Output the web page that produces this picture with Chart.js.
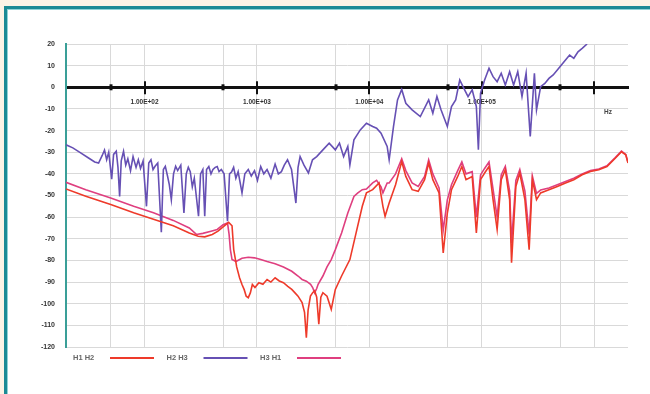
<!DOCTYPE html>
<html>
<head>
<meta charset="utf-8">
<script src="https://cdn.jsdelivr.net/npm/chart.js@4.4.0/dist/chart.umd.min.js"></script>
<style>
html,body{margin:0;padding:0;overflow:hidden;background:#fbf3e6;width:650px;height:394px;}
#frame{position:absolute;left:4px;top:6px;width:700px;height:500px;background:#fff;border-left:3px solid #1b8a95;border-top:3px solid #1b8a95;box-shadow:inset 1px 1px 0 #8fd3d6;}
#c{position:absolute;left:0;top:0;}
</style>
</head>
<body>
<div id="frame"></div>
<canvas id="c" width="650" height="394"></canvas>
<script>
// ---- data (frequency in Hz, response in dB) ----
const seriesNames = ['H1 H2', 'H2 H3', 'H3 H1'];

const h12Freq = [20,30,50,80,120,180,250,300,343,400,450,500,560,600,621,660,700,736,770,802,837,873,910,960,1040,1130,1230,1330,1450,1580,1720,1880,2040,2180,2320,2520,2650,2750,2850,2990,3130,3260,3400,3550,3700,3860,4200,4580,4980,5660,6710,7620,8650,9420,10700,12200,13200,13800,15000,17100,19400,21100,24000,27200,31000,33700,36700,41700,45400,49400,53800,61100,66500,72400,82200,89500,97500,106000,116000,126000,137000,149000,162000,177000,184000,201000,218000,242000,264000,282000,307000,334000,396000,470000,556000,659000,782000,927000,1100000,1300000,1540000,1750000,1910000,2000000];
const h12Db = [-47.0,-50.3,-54.2,-58.0,-61.0,-64.0,-67.3,-68.8,-69.1,-68.0,-66.5,-64.5,-62.4,-64.0,-75.0,-83.0,-88.0,-91.1,-93.5,-96.5,-97.2,-95.0,-91.1,-92.5,-90.3,-91.0,-88.8,-90.0,-88.0,-89.5,-90.3,-92.0,-93.4,-95.0,-96.5,-99.5,-104.0,-115.7,-103.0,-96.5,-94.9,-94.0,-97.0,-109.5,-97.0,-94.9,-96.5,-102.6,-93.4,-87.2,-79.6,-67.3,-55.0,-48.8,-47.3,-44.2,-55.0,-59.6,-53.5,-45.0,-34.3,-41.2,-47.3,-48.1,-42.7,-35.0,-42.7,-48.8,-76.5,-58.1,-47.3,-41.2,-36.6,-42.7,-41.2,-67.3,-42.7,-39.6,-36.6,-51.9,-65.7,-42.7,-38.1,-51.9,-81.1,-45.8,-39.6,-51.9,-75.0,-42.7,-51.9,-48.8,-47.3,-45.8,-44.2,-42.7,-40.4,-38.9,-38.1,-36.6,-32.8,-29.8,-31.2,-35.0];

const h23Freq = [20,23,27,32,36,39,42,44,46,48,51,53,56,58,60,62,65,68,71,75,79,84,88,92,97,104,109,114,119,124,131,141,147,153,160,166,173,181,189,197,210,224,235,245,255,266,277,302,315,330,343,356,373,390,406,425,443,460,482,510,547,570,596,620,649,680,736,780,837,890,951,1010,1080,1150,1230,1330,1450,1550,1650,1750,1870,2030,2220,2320,2420,2620,2870,3120,3400,3860,4390,4980,5420,5900,6430,6710,7290,8300,9420,10700,11600,12700,14400,15000,16400,17800,19400,21100,24000,28400,33700,36700,39900,43400,49400,53800,58600,63700,69300,75500,82200,89500,93300,97500,106000,116000,126000,137000,149000,162000,177000,192000,209000,228000,248000,270000,294000,307000,334000,364000,396000,432000,470000,511000,556000,605000,659000,718000,782000,865000];
const h23Db = [-26.6,-28.0,-30.3,-32.8,-34.5,-35.0,-31.5,-29.0,-33.5,-30.0,-42.5,-31.0,-29.5,-37.0,-50.4,-34.0,-29.6,-36.0,-33.0,-38.5,-32.0,-37.0,-33.5,-37.5,-34.0,-55.0,-35.0,-33.5,-38.0,-36.5,-35.0,-67.0,-38.0,-36.5,-41.0,-45.0,-51.9,-40.0,-36.5,-38.5,-36.0,-58.1,-40.0,-37.0,-39.0,-46.0,-42.0,-59.6,-40.0,-38.0,-59.6,-38.0,-36.6,-40.0,-38.0,-37.0,-36.6,-39.0,-38.0,-40.0,-61.9,-40.0,-39.0,-37.0,-42.0,-39.0,-48.8,-40.0,-38.0,-41.0,-38.5,-43.0,-36.6,-40.0,-38.0,-42.0,-35.5,-40.0,-39.0,-36.0,-33.5,-38.0,-53.5,-37.0,-32.0,-36.0,-39.6,-33.5,-32.0,-28.9,-25.8,-28.9,-25.8,-32.0,-27.3,-35.8,-24.3,-19.7,-16.6,-18.1,-18.9,-21.2,-27.3,-33.5,-18.1,-5.8,-1.0,-7.4,-10.4,-13.5,-5.8,-12.0,-4.3,-10.4,-18.1,-8.9,-5.8,3.4,-0.5,-4.3,-1.2,-8.9,-28.9,-2.8,3.4,8.8,4.9,2.6,6.5,1.1,7.2,1.1,7.2,-4.3,6.5,-22.7,6.5,-10.4,0.3,1.8,4.1,5.7,8.0,10.3,12.6,14.9,13.4,16.4,18.0,20.0];

const h31Freq = [20,30,50,80,120,180,250,289,330,390,443,500,547,565,580,600,650,736,837,951,1080,1230,1450,1720,2040,2320,2520,2750,3000,3130,3260,3400,3500,3860,4200,4580,4980,5660,6430,7290,7900,8650,9420,10700,11600,12700,13200,14400,15000,17100,19400,21100,24000,27200,31000,33700,36700,41700,45400,49400,53800,61100,66500,72400,82200,89500,97500,106000,116000,126000,137000,149000,162000,177000,184000,201000,218000,242000,264000,282000,307000,334000,396000,470000,556000,659000,782000,927000,1100000,1300000,1540000,1750000,1910000,2000000];
const h31Db = [-43.9,-47.3,-51.2,-55.0,-58.0,-61.5,-65.0,-68.0,-67.5,-66.5,-65.7,-63.5,-62.7,-68.0,-75.0,-79.6,-80.5,-79.0,-78.5,-78.8,-79.6,-80.5,-81.5,-83.0,-85.0,-87.2,-88.8,-89.6,-91.0,-92.5,-95.0,-93.0,-91.0,-87.2,-83.0,-79.6,-75.0,-67.3,-58.1,-50.4,-48.8,-47.3,-47.0,-44.2,-43.0,-46.0,-48.8,-44.2,-44.2,-40.0,-33.0,-38.5,-44.2,-45.8,-41.2,-33.5,-40.0,-46.5,-66.0,-52.0,-45.0,-38.5,-34.5,-40.0,-39.0,-60.0,-40.5,-37.5,-34.5,-47.0,-60.0,-40.5,-36.5,-48.0,-72.0,-43.0,-38.0,-48.0,-68.0,-41.0,-49.0,-47.5,-46.5,-45.0,-43.5,-42.0,-40.0,-38.5,-37.8,-36.3,-32.5,-29.5,-31.0,-34.6];

// axis ticks and labels
const xGridValues = [50,100,500,1000,5000,10000,50000,100000,500000,1000000];
const xMajorValues = [100,1000,10000,100000,1000000];
const xMinorValues = [50,500,5000,50000,500000];
const xLabelValues = [100,1000,10000,100000];
const xLabelTexts = ['1.00E+02','1.00E+03','1.00E+04','1.00E+05'];
const xUnitText = 'Hz';
const yMin = -120, yMax = 20, yStep = 10;

const colors = ['#ee3a2a', '#6650b4', '#df3f7f'];

const pts = (fs, ds) => fs.map((f, i) => ({x: f, y: ds[i]}));

const FONT = "'Liberation Sans', Arial, sans-serif";

const decor = {
  id: 'decor',
  beforeDatasetsDraw(chart) {
    const {ctx, scales: {x, y}} = chart;
    const y0 = y.getPixelForValue(0);
    ctx.save();
    ctx.strokeStyle = '#111';
    ctx.lineWidth = 2;
    xMajorValues.forEach(v => {
      const px = Math.round(x.getPixelForValue(v));
      ctx.beginPath(); ctx.moveTo(px, y0 - 6); ctx.lineTo(px, y0 + 7); ctx.stroke();
    });
    ctx.lineWidth = 3;
    xMinorValues.forEach(v => {
      const px = Math.round(x.getPixelForValue(v));
      ctx.beginPath(); ctx.moveTo(px, y0 - 3); ctx.lineTo(px, y0 + 3); ctx.stroke();
    });
    ctx.restore();
  },
  afterDraw(chart) {
    const {ctx, scales: {x, y}} = chart;
    ctx.save();
    // unit label
    ctx.fillStyle = '#444';
    ctx.font = 'bold 6.5px ' + FONT;
    ctx.textBaseline = 'middle';
    ctx.textAlign = 'left';
    ctx.fillText(xUnitText, x.right - 24, y.getPixelForValue(0) + 25);
    // legend: text followed by line sample
    const ly = chart.chartArea.bottom + 11;
    chart.data.datasets.forEach((ds, i) => {
      const tx = 73 + i * 93.5;
      ctx.fillStyle = '#666';
      ctx.font = 'bold 7.5px ' + FONT;
      ctx.fillText(ds.label, tx, ly);
      ctx.strokeStyle = ds.borderColor;
      ctx.lineWidth = 2;
      ctx.beginPath(); ctx.moveTo(tx + 37, ly); ctx.lineTo(tx + 81, ly); ctx.stroke();
    });
    ctx.restore();
  }
};

new Chart(document.getElementById('c'), {
  type: 'line',
  data: {
    datasets: [
      {label: seriesNames[0], data: pts(h12Freq, h12Db), borderColor: colors[0], borderWidth: 1.6},
      {label: seriesNames[1], data: pts(h23Freq, h23Db), borderColor: colors[1], borderWidth: 1.6},
      {label: seriesNames[2], data: pts(h31Freq, h31Db), borderColor: colors[2], borderWidth: 1.6}
    ]
  },
  options: {
    responsive: false,
    animation: false,
    devicePixelRatio: 1,
    layout: {padding: {left: 0, top: 44, right: 22, bottom: 47}},
    elements: {point: {radius: 0}, line: {tension: 0, fill: false}},
    plugins: {legend: {display: false}, tooltip: {enabled: false}},
    scales: {
      x: {
        type: 'logarithmic',
        min: 20, max: 2000000,
        position: {y: 0},
        afterBuildTicks: s => { s.ticks = xGridValues.map(v => ({value: v})); },
        ticks: {
          autoSkip: false, maxRotation: 0, padding: 11,
          color: '#333',
          font: {size: 6.5, weight: 'bold', family: FONT},
          callback: v => { const i = xLabelValues.indexOf(v); return i >= 0 ? xLabelTexts[i] : ''; }
        },
        grid: {color: '#d9d9d9', lineWidth: 1, drawTicks: false},
        border: {display: true, color: '#111', width: 3}
      },
      y: {
        type: 'linear',
        min: yMin, max: yMax,
        afterFit: s => { s.width = 66; },
        ticks: {
          stepSize: yStep, padding: 11,
          color: '#333',
          font: {size: 7, weight: 'bold', family: FONT}
        },
        grid: {color: '#d9d9d9', lineWidth: 1, drawTicks: false},
        border: {display: true, color: '#3a9f98', width: 2}
      }
    }
  },
  plugins: [decor]
});
</script>
</body>
</html>
